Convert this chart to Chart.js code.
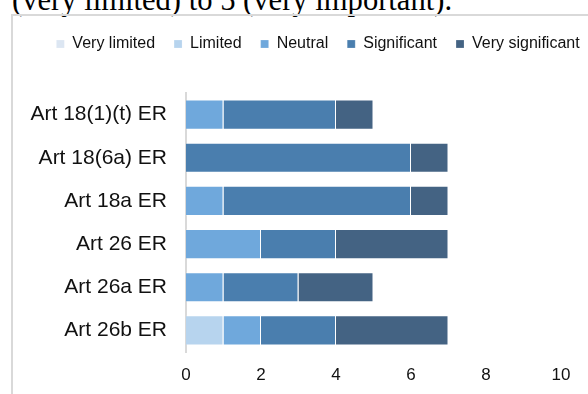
<!DOCTYPE html>
<html>
<head>
<meta charset="utf-8">
<script src="https://cdn.jsdelivr.net/npm/chart.js@4"></script>
<style>
  html, body { margin: 0; padding: 0; background: #fff; overflow: hidden; }
  #wrap { position: relative; width: 588px; height: 394px; }
  #caption {
    position: absolute; left: 12px; top: -15px; white-space: nowrap;
    font-family: "Liberation Serif", "Times New Roman", serif;
    font-size: 30.6px; line-height: 30px; color: #000;
  }
  #frame {
    position: absolute; left: 11px; top: 14px; width: 600px; height: 400px;
    border-left: 2px solid #d9d9d9; border-top: 2px solid #d9d9d9;
  }
  #chart { position: absolute; left: 0; top: 0; }
</style>
</head>
<body>
<div id="wrap">
  <div id="caption">(very limited) to 5 (very important).</div>
  <div id="frame"></div>
  <canvas id="chart" width="588" height="394"></canvas>
</div>
<script>
const categories = ["Art 18(1)(t) ER", "Art 18(6a) ER", "Art 18a ER", "Art 26 ER", "Art 26a ER", "Art 26b ER"];
const veryLimited = [0, 0, 0, 0, 0, 0];
const limited = [0, 0, 0, 0, 0, 1];
const neutral = [1, 0, 1, 2, 1, 1];
const significant = [3, 6, 5, 2, 2, 2];
const verySignificant = [1, 1, 1, 3, 2, 3];
const xTicks = [0, 2, 4, 6, 8, 10];

const font = "'Liberation Sans', Arial, sans-serif";

// keep the legend on one row, leave a gap under it and centre it like the original
const legendTweak = {
  id: "legendTweak",
  beforeInit(chart) {
    const fit = chart.legend.fit;
    chart.legend.fit = function () {
      this.maxWidth = 1000;
      fit.call(this);
      this.height += 31;
    };
  },
  beforeDraw(chart) {
    chart.legend.left = 20;
    chart.legend.right = 616;
    chart.legend.width = 596;
  }
};

function ds(label, data, color) {
  return {
    label: label,
    data: data,
    backgroundColor: color,
    borderColor: "rgba(255,255,255,0.2)",
    borderWidth: 1,
    barPercentage: 1,
    categoryPercentage: 0.7
  };
}

new Chart(document.getElementById("chart"), {
  type: "bar",
  data: {
    labels: categories,
    datasets: [
      ds("Very limited", veryLimited, "#dce6f2"),
      ds("Limited", limited, "#b7d4ee"),
      ds("Neutral", neutral, "#6fa8dc"),
      ds("Significant", significant, "#4a7eae"),
      ds("Very significant", verySignificant, "#446383")
    ]
  },
  plugins: [legendTweak],
  options: {
    indexAxis: "y",
    responsive: false,
    animation: false,
    layout: { padding: { left: 20, right: 27, top: 17, bottom: 0 } },
    plugins: {
      legend: {
        position: "top",
        labels: {
          boxWidth: 8,
          boxHeight: 8,
          padding: 19,
          color: "#111",
          font: { family: font, size: 16 }
        }
      },
      tooltip: { enabled: false }
    },
    scales: {
      x: {
        stacked: true,
        min: 0,
        max: 10,
        afterBuildTicks(scale) {
          scale.ticks = xTicks.map(v => ({ value: v }));
        },
        afterFit(scale) { scale.height = 42; },
        grid: { display: false, drawTicks: false },
        border: { display: false },
        ticks: { padding: 13, color: "#111", font: { family: font, size: 17 } }
      },
      y: {
        stacked: true,
        afterFit(scale) { scale.width = 166; },
        grid: { color: "transparent", drawTicks: false },
        border: { display: true, color: "#d9d9d9", width: 2 },
        ticks: { padding: 19, color: "#111", font: { family: font, size: 21 } }
      }
    }
  }
});
</script>
</body>
</html>
